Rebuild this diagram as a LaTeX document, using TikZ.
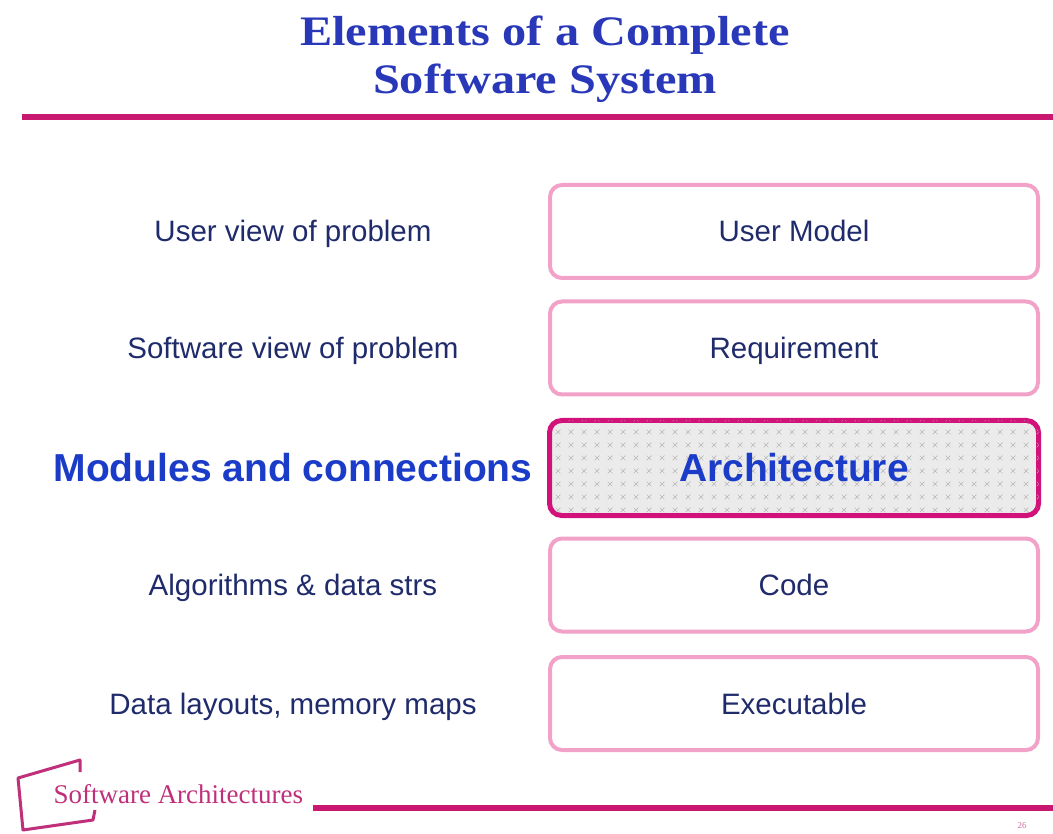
\documentclass[tikz,border=0pt]{standalone}
\usepackage{fontspec}
\setmainfont{Liberation Serif}
\setsansfont{Liberation Sans}
\usetikzlibrary{patterns.meta}

\definecolor{rulemag}{HTML}{C81870}
\definecolor{boxpink}{HTML}{F2A2C8}
\definecolor{archmag}{HTML}{D0127A}
\definecolor{titleblue}{HTML}{2838B8}
\definecolor{labnavy}{HTML}{1F2B6B}
\definecolor{hiblue}{HTML}{1B3CC8}
\definecolor{footmag}{HTML}{C0307A}

% small x marks on the highlighted box
\tikzdeclarepattern{
  name=archx, type=uncolored,
  bottom left={(-6.5pt,-6.5pt)}, top right={(6.5pt,6.5pt)},
  tile size={(13pt,13pt)},
  code={\draw[line width=0.5pt] (-2.5pt,-2.5pt) -- (2.5pt,2.5pt) (-2.5pt,2.5pt) -- (2.5pt,-2.5pt);}
}

\newcommand{\titleline}[1]{\scalebox{1.15}[1]{#1}}

\begin{document}
\begin{tikzpicture}[x=1pt,y=-1pt]
% ----- columns (x) & rows (y) -----
\def\xLab{293}
\def\xBox{794}
\def\xTitle{545}

\def\yA{231.5}
\def\yB{348}
\def\yC{468}
\def\yD{585}
\def\yE{703.5}

% styles
\tikzset{
  lab/.style={font=\sffamily\fontsize{29.5}{34}\selectfont, text=labnavy,
    text height=21pt, text depth=0pt},
  hilab/.style={font=\sffamily\bfseries\fontsize{39}{44}\selectfont, text=hiblue,
    text height=28pt, text depth=0pt},
  box/.style={draw=boxpink, line width=4pt, rounded corners=12pt, fill=white,
    minimum width=488pt, minimum height=93pt, inner sep=0pt, lab},
  hibox/.style={draw=archmag, line width=5pt, rounded corners=12pt, fill=black!8,
    postaction={pattern={archx}, pattern color=black!30},
    minimum width=489pt, minimum height=95pt, inner sep=0pt, hilab},
  title/.style={font=\bfseries\fontsize{42}{48}\selectfont, text=titleblue, anchor=base},
  rule/.style={rulemag, line width=6pt}
}

\fill[white] (0,0) rectangle (1053,834);
\useasboundingbox (0,0) rectangle (1053,834);

% ----- title -----
\node[title] (title1) at (\xTitle,46) {\titleline{Elements of a Complete}};
\node[title] (title2) at (\xTitle,94) {\titleline{Software System}};
\draw[rule] (22,117) -- (1053,117);

% ----- left column -----
\node[lab] (uview) at (\xLab,\yA) {User view of problem};
\node[lab] (sview) at (\xLab,\yB) {Software view of problem};
\node[hilab] (modules) at (\xLab,\yC) {Modules and connections};
\node[lab] (algos) at (\xLab,\yD) {Algorithms \& data strs};
\node[lab] (layouts) at (\xLab,\yE) {Data layouts, memory maps};

% ----- right column -----
\node[box] (umodel) at (\xBox,\yA) {User Model};
\node[box] (require) at (\xBox,\yB) {Requirement};
\node[hibox] (arch) at (\xBox,\yC) {Architecture};
\node[box] (code) at (\xBox,\yD) {Code};
\node[box] (exec) at (\xBox,\yE) {Executable};

% ----- footer -----
\draw[footmag, line width=3pt, line join=round] (80,772) -- (80,760) -- (18,778) -- (23,830) -- (93,820) -- (95,810);
\node[font=\fontsize{27}{30}\selectfont, text=footmag, anchor=base west] (footer) at (50,803) {Software Architectures};
\draw[rule] (313,808) -- (1053,808);
\node[font=\fontsize{9}{10}\selectfont, text=footmag!70] (pageno) at (1022,826) {26};
\end{tikzpicture}
\end{document}
